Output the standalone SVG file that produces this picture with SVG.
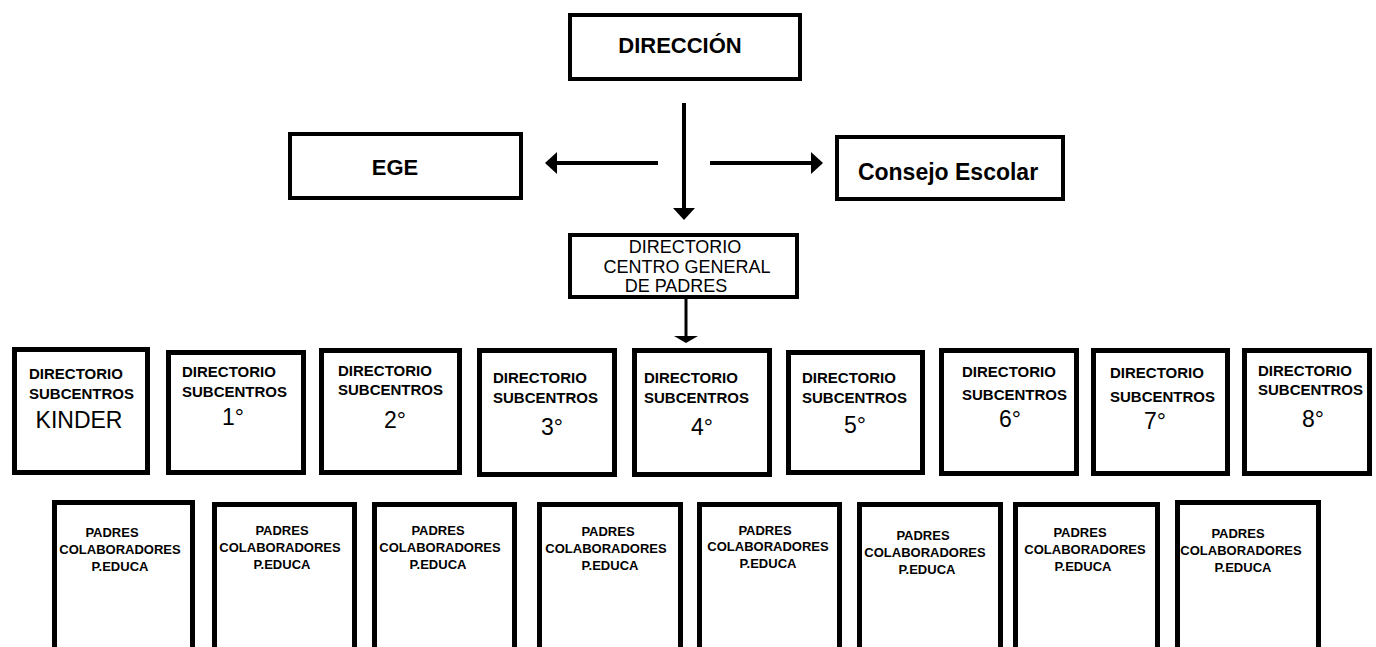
<svg xmlns="http://www.w3.org/2000/svg" width="1376" height="647" viewBox="0 0 1376 647">
<style>
.bx{fill:#fff;stroke:#000;stroke-width:4}
.bx5{fill:#fff;stroke:#000;stroke-width:5}
.t{font-family:"Liberation Sans",Arial,sans-serif;fill:#000}
.big{font-size:22px;font-weight:bold;text-anchor:middle}
.cgp{font-size:18px;text-anchor:middle}
.sub{font-size:15px;font-weight:bold}
.num{font-size:23px;text-anchor:middle}
.pad{font-size:13px;font-weight:bold;text-anchor:middle}
.ln{stroke:#000;stroke-width:4;fill:none}
</style>
<defs>
<marker id="head" viewBox="0 0 12 24" refX="5" refY="12" markerWidth="12" markerHeight="24" markerUnits="userSpaceOnUse" orient="auto">
<path d="M0,1 L12,12 L0,23 Z" fill="#000"/>
</marker>
<marker id="flat" viewBox="0 0 7 24" refX="1" refY="12" markerWidth="7" markerHeight="24" markerUnits="userSpaceOnUse" orient="auto">
<path d="M0,0 L7,12 L0,24 Z" fill="#000"/>
</marker>
</defs>
<rect width="1376" height="647" fill="#fff"/>
<g id="connectors">
<line class="ln" x1="684" y1="103" x2="684" y2="213" marker-end="url(#head)"/>
<line class="ln" x1="658" y1="163" x2="552" y2="163" marker-end="url(#head)"/>
<line class="ln" x1="710" y1="163" x2="816" y2="163" marker-end="url(#head)"/>
<line class="ln" x1="686" y1="299" x2="686" y2="337" marker-end="url(#flat)" style="stroke-width:3"/>
</g>
<g id="direccion">
<rect class="bx" x="570" y="15" width="230" height="64"/>
<text class="t big" x="680" y="53">DIRECCIÓN</text>
</g>
<g id="ege">
<rect class="bx" x="290" y="134" width="231" height="64"/>
<text class="t big" x="395" y="175">EGE</text>
</g>
<g id="consejo">
<rect class="bx" x="837" y="137" width="226" height="62"/>
<text class="t big" x="948" y="180" style="font-size:23px">Consejo Escolar</text>
</g>
<g id="cgp">
<rect class="bx" x="570" y="235" width="227" height="62"/>
<text class="t cgp" x="685" y="253">DIRECTORIO</text>
<text class="t cgp" x="687" y="273">CENTRO GENERAL</text>
<text class="t cgp" x="676" y="292">DE PADRES</text>
</g>
<g id="sub-kinder">
<rect class="bx5" x="14.5" y="349.5" width="133" height="123"/>
<text class="t sub" x="29" y="379">DIRECTORIO</text>
<text class="t sub" x="29" y="399">SUBCENTROS</text>
<text class="t num" x="79" y="428">KINDER</text>
</g>
<g id="sub-1">
<rect class="bx5" x="168.5" y="352.5" width="135" height="120"/>
<text class="t sub" x="182" y="377">DIRECTORIO</text>
<text class="t sub" x="182" y="397">SUBCENTROS</text>
<text class="t num" x="233" y="425">1°</text>
</g>
<g id="sub-2">
<rect class="bx5" x="321.5" y="350.5" width="138" height="122"/>
<text class="t sub" x="338" y="376">DIRECTORIO</text>
<text class="t sub" x="338" y="395">SUBCENTROS</text>
<text class="t num" x="395" y="428">2°</text>
</g>
<g id="sub-3">
<rect class="bx5" x="479.5" y="350.5" width="135" height="124"/>
<text class="t sub" x="493" y="383">DIRECTORIO</text>
<text class="t sub" x="493" y="403">SUBCENTROS</text>
<text class="t num" x="552" y="435">3°</text>
</g>
<g id="sub-4">
<rect class="bx5" x="634.5" y="350.5" width="135" height="124"/>
<text class="t sub" x="644" y="383">DIRECTORIO</text>
<text class="t sub" x="644" y="403">SUBCENTROS</text>
<text class="t num" x="702" y="435">4°</text>
</g>
<g id="sub-5">
<rect class="bx5" x="788.5" y="352.5" width="134" height="120"/>
<text class="t sub" x="802" y="383">DIRECTORIO</text>
<text class="t sub" x="802" y="403">SUBCENTROS</text>
<text class="t num" x="855" y="433">5°</text>
</g>
<g id="sub-6">
<rect class="bx5" x="941.5" y="350.5" width="135" height="123"/>
<text class="t sub" x="962" y="377">DIRECTORIO</text>
<text class="t sub" x="962" y="400">SUBCENTROS</text>
<text class="t num" x="1010" y="427">6°</text>
</g>
<g id="sub-7">
<rect class="bx5" x="1093.5" y="350.5" width="134" height="123"/>
<text class="t sub" x="1110" y="378">DIRECTORIO</text>
<text class="t sub" x="1110" y="402">SUBCENTROS</text>
<text class="t num" x="1155" y="429">7°</text>
</g>
<g id="sub-8">
<rect class="bx5" x="1244.5" y="350.5" width="125" height="123"/>
<text class="t sub" x="1258" y="376">DIRECTORIO</text>
<text class="t sub" x="1258" y="395">SUBCENTROS</text>
<text class="t num" x="1313" y="427">8°</text>
</g>
<g id="padres-1">
<rect class="bx5" x="54.5" y="502.5" width="138" height="160"/>
<text class="t pad" x="112" y="537">PADRES</text>
<text class="t pad" x="120" y="554">COLABORADORES</text>
<text class="t pad" x="120" y="571">P.EDUCA</text>
</g>
<g id="padres-2">
<rect class="bx5" x="214.5" y="504.5" width="140" height="160"/>
<text class="t pad" x="282" y="535">PADRES</text>
<text class="t pad" x="280" y="552">COLABORADORES</text>
<text class="t pad" x="282" y="569">P.EDUCA</text>
</g>
<g id="padres-3">
<rect class="bx5" x="374.5" y="504.5" width="140" height="160"/>
<text class="t pad" x="438" y="535">PADRES</text>
<text class="t pad" x="440" y="552">COLABORADORES</text>
<text class="t pad" x="438" y="569">P.EDUCA</text>
</g>
<g id="padres-4">
<rect class="bx5" x="539.5" y="504.5" width="141" height="160"/>
<text class="t pad" x="608" y="536">PADRES</text>
<text class="t pad" x="606" y="553">COLABORADORES</text>
<text class="t pad" x="610" y="570">P.EDUCA</text>
</g>
<g id="padres-5">
<rect class="bx5" x="699.5" y="504.5" width="140" height="160"/>
<text class="t pad" x="765" y="535">PADRES</text>
<text class="t pad" x="768" y="551">COLABORADORES</text>
<text class="t pad" x="768" y="568">P.EDUCA</text>
</g>
<g id="padres-6">
<rect class="bx5" x="859.5" y="504.5" width="141" height="160"/>
<text class="t pad" x="923" y="540">PADRES</text>
<text class="t pad" x="925" y="557">COLABORADORES</text>
<text class="t pad" x="927" y="574">P.EDUCA</text>
</g>
<g id="padres-7">
<rect class="bx5" x="1015.5" y="504.5" width="142" height="160"/>
<text class="t pad" x="1080" y="537">PADRES</text>
<text class="t pad" x="1085" y="554">COLABORADORES</text>
<text class="t pad" x="1083" y="571">P.EDUCA</text>
</g>
<g id="padres-8">
<rect class="bx5" x="1177.5" y="502.5" width="141" height="160"/>
<text class="t pad" x="1238" y="538">PADRES</text>
<text class="t pad" x="1241" y="555">COLABORADORES</text>
<text class="t pad" x="1243" y="572">P.EDUCA</text>
</g>
</svg>
